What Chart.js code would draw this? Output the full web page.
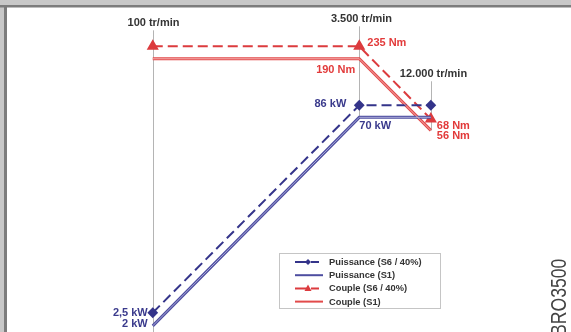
<!DOCTYPE html>
<html>
<head>
<meta charset="utf-8">
<script src="https://cdn.jsdelivr.net/npm/chart.js@4/dist/chart.umd.min.js"></script>
<style>
  html, body { margin: 0; padding: 0; background: #fff; }
  canvas { display: block; }
</style>
</head>
<body>
<canvas id="c" width="571" height="332"></canvas>
<script>
// Motor speed (rpm) at the corner points of the curves
const rpm = [100, 3500, 12000];
const rpmLabels = ['100 tr/min', '3.500 tr/min', '12.000 tr/min'];

// Power (kW) and torque (Nm) for intermittent (S6 / 40%) and continuous (S1) duty
const powerS6 = [2.5, 86, 86];
const powerS1 = [2, 70, 70];
const torqueS6 = [235, 235, 68];
const torqueS1 = [190, 190, 56];

const seriesNames = ['Puissance (S6 / 40%)', 'Puissance (S1)', 'Couple (S6 / 40%)', 'Couple (S1)'];
const seriesUnits = ['kW', 'kW', 'Nm', 'Nm'];

const NAVY = '#34348a';
const BLUE = '#4d4da0';
const RED_D = '#dc3b3e';
const RED = '#e24a4a';
const TEXT = '#333333';
const FONT = '"Liberation Sans", Arial, sans-serif';

function fmtNumber(v) {
  return String(v).replace('.', ',');
}

function toPoints(values) {
  return rpm.map((r, i) => ({ x: r, y: values[i] }));
}

// Frame, white background and the reference number on the right
const framePlugin = {
  id: 'frame',
  beforeDraw(chart) {
    const ctx = chart.ctx, w = chart.width, h = chart.height;
    ctx.save();
    ctx.fillStyle = '#ffffff';
    ctx.fillRect(0, 0, w, h);
    ctx.fillStyle = '#c8c8c8';
    ctx.fillRect(0, 0, w, 5);
    ctx.fillRect(0, 0, 4, h);
    ctx.fillStyle = '#7c7c7c';
    ctx.fillRect(0, 5, w, 2.5);
    ctx.fillRect(4, 5, 3, h);
    ctx.restore();
  },
  afterDraw(chart) {
    const ctx = chart.ctx;
    ctx.save();
    ctx.translate(566, 336);
    ctx.rotate(-Math.PI / 2);
    ctx.scale(0.8, 1);
    ctx.fillStyle = '#444444';
    ctx.font = '22px ' + FONT;
    ctx.textAlign = 'left';
    ctx.textBaseline = 'alphabetic';
    ctx.fillText('BRO3500', 0, 0);
    ctx.restore();
  }
};

// Vertical speed markers with their labels
const speedPlugin = {
  id: 'speeds',
  beforeDatasetsDraw(chart, args, opts) {
    const ctx = chart.ctx;
    const xs = chart.scales.x, ys = chart.scales.y;
    ctx.save();
    rpm.forEach((r, i) => {
      const x = Math.round(xs.getPixelForValue(r)) + 0.5;
      let topY = Infinity, botY = -Infinity;
      chart.data.datasets.forEach(ds => {
        const py = ys.getPixelForValue(ds.data[i].y);
        topY = Math.min(topY, py);
        botY = Math.max(botY, py);
      });
      const labelY = topY + opts.labelDy[i];
      const lineTop = labelY + 7;
      const lineBot = i === 0 ? chart.chartArea.bottom : botY;
      ctx.strokeStyle = '#b4b4b4';
      ctx.lineWidth = 1;
      ctx.beginPath();
      ctx.moveTo(x, lineTop);
      ctx.lineTo(x, lineBot);
      ctx.stroke();
      ctx.fillStyle = TEXT;
      ctx.font = 'bold 11px ' + FONT;
      ctx.textAlign = 'center';
      ctx.textBaseline = 'middle';
      ctx.fillText(rpmLabels[i], x + opts.labelDx[i], labelY);
    });
    ctx.restore();
  }
};

// Lighter core on the continuous-duty lines
const coreLinePlugin = {
  id: 'coreLine',
  afterDatasetsDraw(chart) {
    const ctx = chart.ctx;
    ctx.save();
    chart.data.datasets.forEach((ds, di) => {
      if (!ds.coreColor) return;
      const pts = chart.getDatasetMeta(di).data;
      ctx.strokeStyle = ds.coreColor;
      ctx.lineWidth = 1;
      ctx.beginPath();
      pts.forEach((p, k) => k ? ctx.lineTo(p.x, p.y) : ctx.moveTo(p.x, p.y));
      ctx.stroke();
    });
    ctx.restore();
  }
};

// Value callouts next to the corner points
const valueLabelPlugin = {
  id: 'valueLabels',
  afterDatasetsDraw(chart, args, opts) {
    const ctx = chart.ctx;
    ctx.save();
    ctx.font = 'bold 11px ' + FONT;
    ctx.textBaseline = 'middle';
    opts.items.forEach(([di, pi, align, dx, dy]) => {
      const ds = chart.data.datasets[di];
      const el = chart.getDatasetMeta(di).data[pi];
      ctx.fillStyle = ds.labelColor;
      ctx.textAlign = align;
      ctx.fillText(fmtNumber(ds.data[pi].y) + ' ' + seriesUnits[di], el.x + dx, el.y + dy);
    });
    ctx.restore();
  }
};

// Boxed legend with line and marker samples
const boxLegendPlugin = {
  id: 'boxLegend',
  afterDraw(chart, args, opts) {
    const ctx = chart.ctx;
    const { x, y, w, h, rowY, rowStep } = opts;
    ctx.save();
    ctx.strokeStyle = '#8a8a8a';
    ctx.lineWidth = 1;
    ctx.setLineDash([1, 1]);
    ctx.strokeRect(x + 0.5, y + 0.5, w, h);
    ctx.setLineDash([]);
    chart.data.datasets.forEach((ds, i) => {
      const cy = y + rowY + i * rowStep;
      ctx.strokeStyle = ds.borderColor;
      ctx.lineWidth = 2;
      ctx.setLineDash(ds.borderDash && ds.borderDash.length ? [12, 4, 8, 4] : []);
      ctx.beginPath();
      ctx.moveTo(x + 16, cy);
      ctx.lineTo(x + 44, cy);
      ctx.stroke();
      ctx.setLineDash([]);
      if (ds.pointRadius > 0) {
        ctx.fillStyle = ds.pointBackgroundColor;
        ctx.beginPath();
        const mx = x + 29;
        if (ds.pointStyle === 'triangle') {
          ctx.moveTo(mx, cy - 4);
          ctx.lineTo(mx + 3.5, cy + 2.5);
          ctx.lineTo(mx - 3.5, cy + 2.5);
        } else {
          ctx.moveTo(mx, cy - 3);
          ctx.lineTo(mx + 3, cy);
          ctx.lineTo(mx, cy + 3);
          ctx.lineTo(mx - 3, cy);
        }
        ctx.closePath();
        ctx.fill();
      }
      ctx.fillStyle = TEXT;
      ctx.font = 'bold 9.3px ' + FONT;
      ctx.textAlign = 'left';
      ctx.textBaseline = 'middle';
      ctx.fillText(ds.label, x + 50, cy + 0.5);
    });
    ctx.restore();
  }
};

const datasets = [
  {
    label: seriesNames[0], data: toPoints(powerS6),
    borderColor: NAVY, borderWidth: 2, borderDash: [10, 5],
    pointStyle: 'rectRot', pointRadius: 4, pointBackgroundColor: NAVY, pointBorderColor: NAVY,
    labelColor: '#3a3a8c'
  },
  {
    label: seriesNames[1], data: toPoints(powerS1),
    borderColor: BLUE, borderWidth: 3, borderDash: [],
    pointRadius: 0, coreColor: '#a9a9d6', labelColor: '#3a3a8c'
  },
  {
    label: seriesNames[2], data: toPoints(torqueS6),
    borderColor: RED_D, borderWidth: 2, borderDash: [10, 5],
    pointStyle: 'triangle', pointRadius: 5, pointBackgroundColor: RED_D, pointBorderColor: RED_D,
    labelColor: '#e23a3a'
  },
  {
    label: seriesNames[3], data: toPoints(torqueS1),
    borderColor: RED, borderWidth: 3, borderDash: [],
    pointRadius: 0, coreColor: '#f4b0b0', labelColor: '#e23a3a'
  }
];

new Chart(document.getElementById('c'), {
  type: 'line',
  data: { datasets },
  options: {
    responsive: false,
    animation: false,
    events: [],
    layout: { autoPadding: false, padding: { left: 19, right: 17, top: 32, bottom: 0 } },
    datasets: { line: { tension: 0, fill: false, clip: false, pointHoverRadius: 0 } },
    scales: {
      x: { type: 'logarithmic', min: 10, max: 100000, display: false, bounds: 'data' },
      y: { type: 'logarithmic', min: 1.8, max: 300, display: false, bounds: 'data' }
    },
    plugins: {
      legend: { display: false },
      tooltip: { enabled: false },
      speeds: { labelDy: [-23, -27, -31], labelDx: [0, 2, 2] },
      valueLabels: {
        items: [
          [0, 0, 'right', -5, 0],
          [0, 1, 'right', -13, -1],
          [1, 0, 'right', -5, -2],
          [1, 1, 'left', 0, 9],
          [2, 1, 'left', 8, -3],
          [2, 2, 'left', 6, 7],
          [3, 1, 'right', -4, 11],
          [3, 2, 'left', 6, 6]
        ]
      },
      boxLegend: { x: 279, y: 253, w: 161, h: 55, rowY: 9, rowStep: 13.2 }
    }
  },
  plugins: [framePlugin, speedPlugin, coreLinePlugin, valueLabelPlugin, boxLegendPlugin]
});
</script>
</body>
</html>
